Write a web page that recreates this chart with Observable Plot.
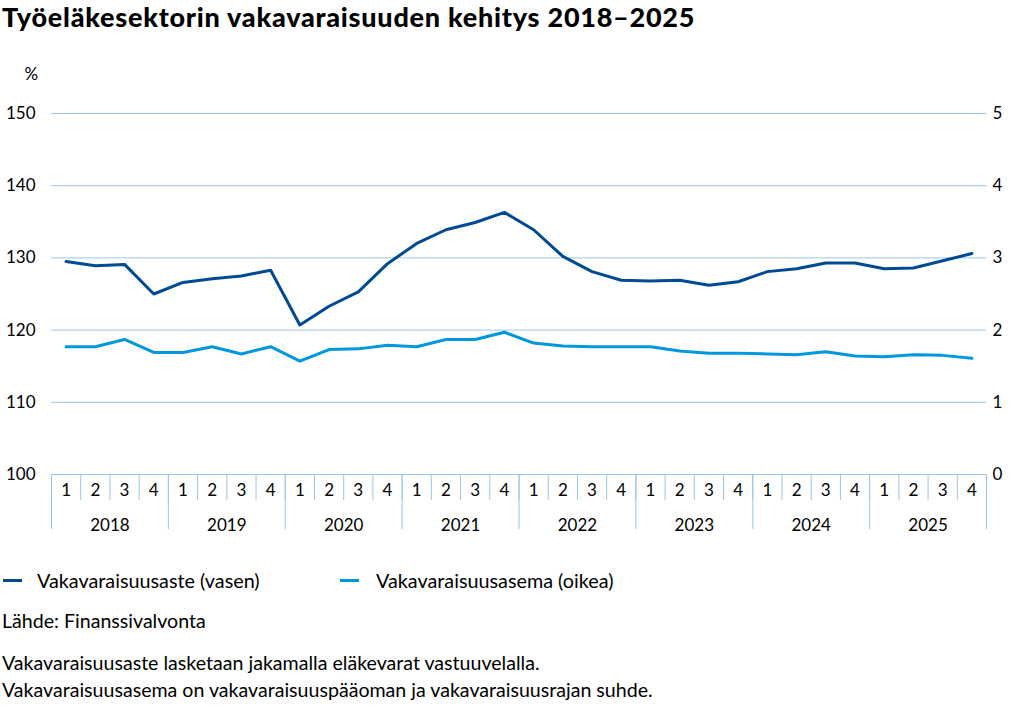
<!DOCTYPE html>
<html>
<head>
<meta charset="utf-8">
<script src="https://cdn.jsdelivr.net/npm/d3@7"></script>
<script src="https://cdn.jsdelivr.net/npm/@observablehq/plot@0.6"></script>
<style>
  html, body { margin: 0; padding: 0; background: #fff; }
  body { width: 1027px; height: 720px; position: relative; font-family: Lato, "Open Sans", sans-serif; color: #000; overflow: hidden; }
  .abs { position: absolute; white-space: nowrap; line-height: 24px; }
  #title { left: 2px; top: 2px; font-size: 27px; line-height: 30px; font-weight: 900; letter-spacing: 0.75px; }
  #chart { left: 0; top: 40px; }
  .leg { top: 568px; font-size: 19.8px; display: flex; align-items: center; }
  .sw { display: inline-block; width: 19px; height: 3px; margin-right: 15px; }
  .txt { left: 2px; font-size: 19.6px; }
</style>
</head>
<body>
<div id="title" class="abs">Työeläkesektorin vakavaraisuuden kehitys 2018–2025</div>
<div id="chart" class="abs"></div>
<div class="abs leg" style="left:3px"><span class="sw" style="background:#004a93"></span>Vakavaraisuusaste (vasen)</div>
<div class="abs leg" style="left:340px"><span class="sw" style="background:#0098dc;margin-right:17px"></span>Vakavaraisuusasema (oikea)</div>
<div class="abs txt" style="top:609px">Lähde: Finanssivalvonta</div>
<div class="abs txt" style="top:651px">Vakavaraisuusaste lasketaan jakamalla eläkevarat vastuuvelalla.</div>
<div class="abs txt" style="top:678px">Vakavaraisuusasema on vakavaraisuuspääoman ja vakavaraisuusrajan suhde.</div>
<script>
const years = [2018, 2019, 2020, 2021, 2022, 2023, 2024, 2025];
const quarterLabels = ["1", "2", "3", "4"];
const leftTicks = [100, 110, 120, 130, 140, 150];
const rightTicks = [0, 1, 2, 3, 4, 5];
// Vakavaraisuusaste (%), left axis
const aste = [
  129.5, 128.9, 129.1, 125.0,
  126.6, 127.1, 127.5, 128.3,
  120.7, 123.3, 125.3, 129.2,
  132.0, 133.9, 134.9, 136.3,
  133.9, 130.2, 128.1, 126.9,
  126.8, 126.9, 126.2, 126.7,
  128.1, 128.5, 129.3, 129.3,
  128.5, 128.6, 129.6, 130.6
];
// Vakavaraisuusasema, right axis
const asema = [
  1.77, 1.77, 1.87, 1.69,
  1.69, 1.77, 1.67, 1.77,
  1.57, 1.73, 1.74, 1.79,
  1.77, 1.87, 1.87, 1.97,
  1.82, 1.78, 1.77, 1.77,
  1.77, 1.71, 1.68, 1.68,
  1.67, 1.66, 1.70, 1.64,
  1.63, 1.66, 1.65, 1.61
];

const dark = "#004a93";
const light = "#0098dc";
const grid = "#9cc6e8";

const periods = years.flatMap((y, yi) => quarterLabels.map((q, qi) => ({year: y, q, idx: yi * 4 + qi})));
const rows = periods.map((p, i) => ({x: i + 0.5, aste: aste[i], asema: asema[i] * 10 + 100, q: p.q}));
const nQ = periods.length;
const qBounds = d3.range(0, nQ + 1);
const yBounds = d3.range(0, nQ + 1, quarterLabels.length);
const qCenters = rows.map(r => r.x);
const yCenters = years.map((y, i) => i * 4 + 2);

const chart = Plot.plot({
  width: 1027,
  height: 500,
  marginLeft: 51,
  marginRight: 41,
  marginTop: 73,
  marginBottom: 66,
  style: {fontFamily: "Lato, 'Open Sans', sans-serif", fontSize: "17px", color: "#000", background: "transparent"},
  x: {type: "linear", domain: [0, nQ], axis: null},
  y: {domain: [100, 150], axis: null},
  marks: [
    Plot.ruleY(leftTicks, {stroke: grid, strokeWidth: 1}),
    Plot.axisY({anchor: "left", ticks: leftTicks, tickSize: 0, tickPadding: 16, label: null, fontSize: 17}),
    Plot.axisY({anchor: "right", ticks: leftTicks, tickSize: 0, tickPadding: 6, label: null, fontSize: 17,
      tickFormat: d => String(rightTicks[leftTicks.indexOf(d)])}),
    Plot.axisX({anchor: "bottom", ticks: qBounds, tickSize: 26, tickFormat: () => "", stroke: grid, label: null}),
    Plot.axisX({anchor: "bottom", ticks: yBounds, tickSize: 55, tickFormat: () => "", stroke: grid, label: null}),
    Plot.axisX({anchor: "bottom", ticks: qCenters, tickSize: 0, tickPadding: 9, label: null, fontSize: 17,
      tickFormat: d => periods[Math.floor(d)].q}),
    Plot.axisX({anchor: "bottom", ticks: yCenters, tickSize: 0, tickPadding: 44, label: null, fontSize: 17,
      tickFormat: d => String(years[Math.floor(d / 4)])}),
    Plot.text(["%"], {frameAnchor: "top-left", dx: -27, dy: -46, fontSize: 17}),
    Plot.lineY(rows, {x: "x", y: "asema", stroke: light, strokeWidth: 3, curve: "linear"}),
    Plot.lineY(rows, {x: "x", y: "aste", stroke: dark, strokeWidth: 3, curve: "linear"})
  ]
});
document.getElementById("chart").appendChild(chart);
</script>
</body>
</html>
